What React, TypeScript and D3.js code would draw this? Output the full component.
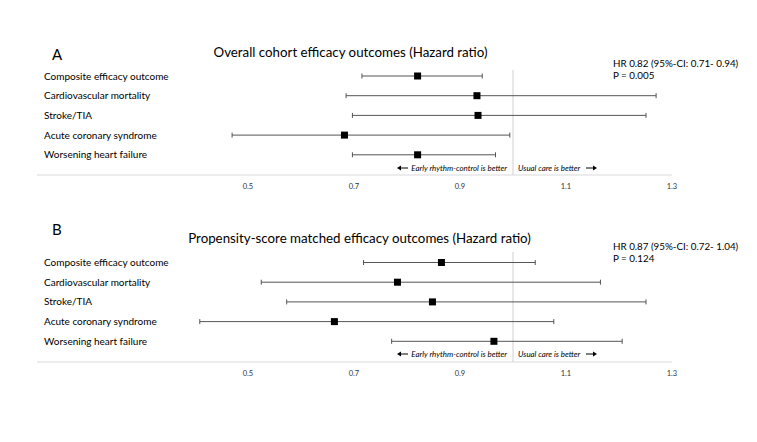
import React from "react";
import * as d3 from "d3";

const outcomes = [
  "Composite efficacy outcome",
  "Cardiovascular mortality",
  "Stroke/TIA",
  "Acute coronary syndrome",
  "Worsening heart failure",
];

const overallHR = [0.82, 0.932, 0.934, 0.682, 0.82];
const overallLow = [0.715, 0.685, 0.697, 0.47, 0.697];
const overallHigh = [0.942, 1.27, 1.251, 0.994, 0.967];

const matchedHR = [0.865, 0.782, 0.848, 0.663, 0.964];
const matchedLow = [0.718, 0.525, 0.573, 0.409, 0.771];
const matchedHigh = [1.042, 1.165, 1.251, 1.077, 1.206];

const tickValues = [0.5, 0.7, 0.9, 1.1, 1.3];

const panels = [
  {
    letter: "A",
    title: "Overall cohort efficacy outcomes (Hazard ratio)",
    hrText: "HR 0.82 (95%-CI: 0.71- 0.94)",
    pText: "P = 0.005",
    hr: overallHR,
    low: overallLow,
    high: overallHigh,
  },
  {
    letter: "B",
    title: "Propensity-score matched efficacy outcomes (Hazard ratio)",
    hrText: "HR 0.87 (95%-CI: 0.72- 1.04)",
    pText: "P = 0.124",
    hr: matchedHR,
    low: matchedLow,
    high: matchedHigh,
  },
];

const FONT = "Lato, 'Open Sans', sans-serif";

function Arrow({ x1, x2, y }: any) {
  const dir = x2 > x1 ? 1 : -1;
  return (
    <g>
      <line x1={x1} x2={x2 - dir * 3} y1={y} y2={y} stroke="#000" strokeWidth={1} />
      <path d={`M${x2},${y} L${x2 - dir * 4},${y - 2.5} L${x2 - dir * 4},${y + 2.5} Z`} fill="#000" />
    </g>
  );
}

function Panel({ p, top, layout }: any) {
  const x = d3.scaleLinear().domain([0.5, 1.3]).range([248, 672]);
  const y = d3
    .scalePoint<string>()
    .domain(outcomes)
    .range([top + layout.firstRow, top + layout.firstRow + 4 * 19.7]);
  const axisY = top + layout.axis;
  return (
    <g>
      <text x={52} y={top + layout.letterY} fontSize={15} fontFamily={FONT} fill="#000">
        {p.letter}
      </text>
      <text x={layout.titleX} y={top + layout.titleY} fontSize={13.3} fontFamily={FONT} textAnchor="middle" fill="#000">
        {p.title}
      </text>
      <text x={613} y={top + layout.hrY} fontSize={9.8} fontFamily={FONT} fill="#000">
        {p.hrText}
      </text>
      <text x={613} y={top + layout.hrY + 12} fontSize={9.8} fontFamily={FONT} fill="#000">
        {p.pText}
      </text>
      <line x1={x(1)} x2={x(1)} y1={top + layout.refTop} y2={axisY} stroke="#d0d0d0" strokeWidth={1} />
      <line x1={37} x2={672} y1={axisY} y2={axisY} stroke="#d9d9d9" strokeWidth={1} />
      {tickValues.map((t) => (
        <text key={t} x={x(t)} y={axisY + 14} fontSize={7.5} fontFamily={FONT} textAnchor="middle" fill="#333">
          {d3.format(".1f")(t)}
        </text>
      ))}
      {outcomes.map((o, i) => {
        const yy = y(o)!;
        return (
          <g key={o}>
            <text x={44} y={yy + 3.5} fontSize={10} fontFamily={FONT} fill="#000">
              {o}
            </text>
            <line x1={x(p.low[i])} x2={x(p.high[i])} y1={yy} y2={yy} stroke="#555" strokeWidth={1} />
            <line x1={x(p.low[i])} x2={x(p.low[i])} y1={yy - 2.5} y2={yy + 2.5} stroke="#555" strokeWidth={1} />
            <line x1={x(p.high[i])} x2={x(p.high[i])} y1={yy - 2.5} y2={yy + 2.5} stroke="#555" strokeWidth={1} />
            <rect x={x(p.hr[i]) - 3.5} y={yy - 3.5} width={7} height={7} fill="#000" />
          </g>
        );
      })}
      <g fontFamily={FONT} fontSize={7.9} fontStyle="italic" fill="#000">
        <text x={x(1) - 6} y={top + layout.arrowY + 3} textAnchor="end">
          Early rhythm-control is better
        </text>
        <text x={x(1) + 5} y={top + layout.arrowY + 3}>
          Usual care is better
        </text>
      </g>
      <Arrow x1={408} x2={397} y={top + layout.arrowY} />
      <Arrow x1={586} x2={597} y={top + layout.arrowY} />
    </g>
  );
}

export default function App() {
  const layoutA = { letterY: 30, titleX: 350.5, titleY: 27, hrY: 36.5, refTop: 40, firstRow: 46, axis: 145, arrowY: 138 };
  const layoutB = { letterY: 20, titleX: 359.5, titleY: 28, hrY: 34.5, refTop: 37, firstRow: 47.5, axis: 147, arrowY: 139 };
  return (
    <svg width={757} height={442} style={{ position: "absolute", left: 0, top: 0 }}>
      <rect width={757} height={442} fill="#fff" />
      <Panel p={panels[0]} top={30} layout={layoutA} />
      <Panel p={panels[1]} top={215} layout={layoutB} />
    </svg>
  );
}
